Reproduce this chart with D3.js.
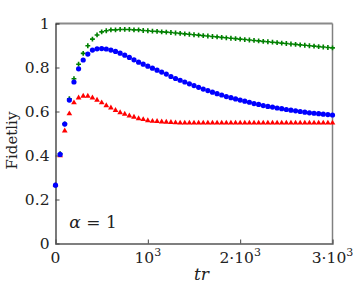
<!DOCTYPE html>
<html>
<head>
<meta charset="utf-8">
<script src="https://cdn.jsdelivr.net/npm/d3@7"></script>
<style>
  body { margin: 0; background: #fff; }
</style>
</head>
<body>
<div id="chart"></div>
<script>
var serif = "'DejaVu Serif', serif";

// time points, step 50 from 0 to 3000
var times = d3.range(0, 3001, 50);

// green series (+ markers)
var greenVals = [0.265, 0.408, 0.544, 0.658, 0.749, 0.815, 0.864, 0.899, 0.929, 0.948,
  0.962, 0.967, 0.971, 0.971, 0.973, 0.973, 0.973, 0.971, 0.971, 0.968,
  0.967, 0.965, 0.964, 0.962, 0.961, 0.959, 0.957, 0.955, 0.953, 0.951,
  0.949, 0.947, 0.945, 0.943, 0.941, 0.939, 0.937, 0.935, 0.933, 0.931,
  0.929, 0.927, 0.925, 0.923, 0.921, 0.919, 0.917, 0.915, 0.913, 0.911,
  0.909, 0.907, 0.905, 0.903, 0.901, 0.899, 0.897, 0.895, 0.893, 0.891, 0.889];

// blue series (circles)
var blueVals = [0.265, 0.405, 0.543, 0.652, 0.734, 0.794, 0.834, 0.861, 0.879, 0.885,
  0.886, 0.884, 0.879, 0.873, 0.865, 0.856, 0.846, 0.835, 0.824, 0.815,
  0.806, 0.797, 0.788, 0.779, 0.770, 0.759, 0.750, 0.742, 0.734, 0.726,
  0.718, 0.710, 0.702, 0.695, 0.688, 0.681, 0.675, 0.668, 0.663, 0.657,
  0.652, 0.647, 0.642, 0.636, 0.632, 0.627, 0.623, 0.620, 0.616, 0.613,
  0.609, 0.606, 0.603, 0.600, 0.597, 0.594, 0.592, 0.590, 0.588, 0.586, 0.584];

// red series (triangles)
var redVals = [0.265, 0.400, 0.512, 0.590, 0.640, 0.662, 0.670, 0.670, 0.662, 0.652,
  0.640, 0.627, 0.617, 0.605, 0.595, 0.588, 0.580, 0.575, 0.568, 0.564,
  0.559, 0.556, 0.555, 0.553, 0.552, 0.551, 0.549, 0.548, 0.548, 0.548,
  0.548, 0.548, 0.548, 0.548, 0.548, 0.548, 0.548, 0.548, 0.548, 0.548,
  0.548, 0.548, 0.548, 0.548, 0.548, 0.548, 0.548, 0.548, 0.548, 0.548,
  0.548, 0.548, 0.548, 0.548, 0.548, 0.548, 0.548, 0.548, 0.548, 0.548, 0.548];

var yTicks = [0, 0.2, 0.4, 0.6, 0.8, 1];
var yTickLabels = ["0", "0.2", "0.4", "0.6", "0.8", "1"];
var xTicks = [0, 1000, 2000, 3000];
var xTickLabels = [["0", ""], ["10", "3"], ["2\u00b710", "3"], ["3\u00b710", "3"]];

var margin = {top: 23.5, right: 20.5, bottom: 43.5, left: 55.5},
    W = 353, H = 287,
    width = W - margin.left - margin.right,
    height = H - margin.top - margin.bottom;

var svg = d3.select("#chart")
  .append("svg")
    .attr("width", W)
    .attr("height", H)
  .append("g")
    .attr("transform", "translate(" + margin.left + "," + margin.top + ")");

var x = d3.scaleLinear().domain([0, 3000]).range([0, width]);
var y = d3.scaleLinear().domain([0, 1]).range([height, 0]);

// frame: top and right lighter grey
svg.append("line").attr("x1", 0).attr("x2", width).attr("y1", 0).attr("y2", 0)
  .attr("stroke", "#8a8a8a").attr("stroke-width", 2);
svg.append("line").attr("x1", width).attr("x2", width).attr("y1", 0).attr("y2", height)
  .attr("stroke", "#808080").attr("stroke-width", 1.5);

// y axis, ticks pointing inward
var yAxis = svg.append("g")
  .call(d3.axisRight(y).tickValues(yTicks).tickSize(4).tickFormat(""));
yAxis.select(".domain").attr("stroke", "#222").attr("stroke-width", 1.2);
yAxis.selectAll(".tick line").attr("stroke", "#444");
yAxis.selectAll(".tick").filter(function(d) { return d === 0 || d === 1; }).select("line").remove();

svg.selectAll(".ylab")
  .data(yTicks)
  .enter().append("text")
    .attr("class", "ylab")
    .attr("x", -6)
    .attr("y", function(d) { return y(d); })
    .attr("dy", "0.36em")
    .attr("text-anchor", "end")
    .style("font-family", serif)
    .style("font-size", "15.5px")
    .style("fill", "#222")
    .text(function(d, i) { return yTickLabels[i]; });

// x axis, ticks pointing inward
var xAxis = svg.append("g")
  .attr("transform", "translate(0," + height + ")")
  .call(d3.axisTop(x).tickValues(xTicks).tickSize(4).tickFormat(""));
xAxis.select(".domain").attr("stroke", "#555").attr("stroke-width", 1.3);
xAxis.selectAll(".tick line").attr("stroke", "#444");
xAxis.selectAll(".tick").filter(function(d) { return d === 0 || d === 3000; }).select("line").remove();

var xl = svg.selectAll(".xlab")
  .data(xTicks)
  .enter().append("text")
    .attr("class", "xlab")
    .attr("x", function(d) { return x(d); })
    .attr("y", height + 19)
    .attr("text-anchor", "middle")
    .style("font-family", serif)
    .style("fill", "#222")
    .style("font-size", "15.5px");
xl.append("tspan").text(function(d, i) { return xTickLabels[i][0]; });
xl.append("tspan")
  .attr("dy", -7)
  .style("font-size", "11px")
  .text(function(d, i) { return xTickLabels[i][1]; });

// axis titles
svg.append("text")
  .attr("x", x(1580))
  .attr("y", height + 36)
  .attr("text-anchor", "middle")
  .style("font-family", serif)
  .style("fill", "#222")
  .style("font-size", "17px")
  .style("font-style", "italic")
  .text("tr");

svg.append("text")
  .attr("transform", "translate(" + (-margin.left + 17) + "," + (height / 2 + 7) + ") rotate(-90)")
  .attr("text-anchor", "middle")
  .style("font-family", serif)
  .style("fill", "#222")
  .style("font-size", "15px")
  .text("Fidetliy");

var lab = svg.append("text")
  .attr("x", x(150))
  .attr("y", y(0.07))
  .style("font-family", serif)
  .style("fill", "#222")
  .style("font-size", "17px");
lab.append("tspan").style("font-style", "italic").text("\u03b1");
lab.append("tspan").text(" = 1");

// markers
function series(vals) { return times.map(function(t, i) { return {t: t, v: vals[i]}; }); }

var tri = d3.symbol().type(d3.symbolTriangle).size(14);
var cross = d3.symbol().type(d3.symbolCross).size(13);

svg.append("g").selectAll("path")
  .data(series(redVals))
  .enter().append("path")
    .attr("d", tri)
    .attr("transform", function(d) { return "translate(" + x(d.t) + "," + y(d.v) + ")"; })
    .attr("fill", "#ff0000");

svg.append("g").selectAll("path")
  .data(series(greenVals))
  .enter().append("path")
    .attr("d", cross)
    .attr("transform", function(d) { return "translate(" + x(d.t) + "," + y(d.v) + ")"; })
    .attr("fill", "#008000");

svg.append("g").selectAll("circle")
  .data(series(blueVals))
  .enter().append("circle")
    .attr("cx", function(d) { return x(d.t); })
    .attr("cy", function(d) { return y(d.v); })
    .attr("r", 2.6)
    .attr("fill", "#0000ff");
</script>
</body>
</html>
